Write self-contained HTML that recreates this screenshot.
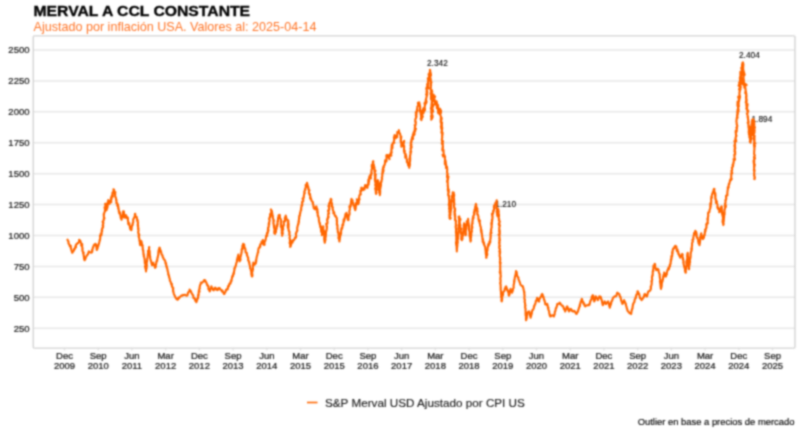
<!DOCTYPE html>
<html lang="es"><head><meta charset="utf-8"><title>MERVAL A CCL CONSTANTE</title>
<style>
html,body{margin:0;padding:0;background:#fff;}
body{width:800px;height:439px;overflow:hidden;font-family:"Liberation Sans",Arial,sans-serif;}
svg{display:block;}
svg text{font-family:"Liberation Sans",Arial,sans-serif;}
.title{font-size:14.8px;font-weight:bold;fill:#000;stroke:#000;stroke-width:0.35px;}
.sub{font-size:12.58px;fill:#ff7426;}
.grid line{stroke:#e7e7e7;stroke-width:1.5;}
.ylab text{font-size:9.5px;fill:#111;stroke:#111;stroke-width:0.2px;text-anchor:end;}
.xlab text{font-size:9.5px;fill:#111;stroke:#111;stroke-width:0.2px;text-anchor:middle;}
.ann text{font-size:8.3px;fill:#000;stroke:#000;stroke-width:0.1px;}
.leg{font-size:11.7px;fill:#1a1a1a;stroke:#1a1a1a;stroke-width:0.15px;}
.foot{font-size:9.42px;fill:#000;stroke:#000;stroke-width:0.15px;text-anchor:end;}
</style></head><body>
<svg width="800" height="439" viewBox="0 0 800 439">
<rect width="800" height="439" fill="#fff"/>
<g filter="url(#bl)">
<text class="title" x="33.5" y="16.2" textLength="216.6" lengthAdjust="spacingAndGlyphs">MERVAL A CCL CONSTANTE</text>
<text class="sub" x="33.5" y="31.4">Ajustado por inflación USA. Valores al: 2025-04-14</text>
<g class="grid"><line x1="33.25" x2="795" y1="328.20" y2="328.20"/><line x1="33.25" x2="795" y1="297.29" y2="297.29"/><line x1="33.25" x2="795" y1="266.38" y2="266.38"/><line x1="33.25" x2="795" y1="235.47" y2="235.47"/><line x1="33.25" x2="795" y1="204.56" y2="204.56"/><line x1="33.25" x2="795" y1="173.64" y2="173.64"/><line x1="33.25" x2="795" y1="142.73" y2="142.73"/><line x1="33.25" x2="795" y1="111.82" y2="111.82"/><line x1="33.25" x2="795" y1="80.91" y2="80.91"/><line x1="33.25" x2="795" y1="50.00" y2="50.00"/><line x1="64.50" x2="64.50" y1="348.1" y2="350.6"/><line x1="98.21" x2="98.21" y1="348.1" y2="350.6"/><line x1="131.93" x2="131.93" y1="348.1" y2="350.6"/><line x1="165.64" x2="165.64" y1="348.1" y2="350.6"/><line x1="199.36" x2="199.36" y1="348.1" y2="350.6"/><line x1="233.07" x2="233.07" y1="348.1" y2="350.6"/><line x1="266.79" x2="266.79" y1="348.1" y2="350.6"/><line x1="300.50" x2="300.50" y1="348.1" y2="350.6"/><line x1="334.21" x2="334.21" y1="348.1" y2="350.6"/><line x1="367.93" x2="367.93" y1="348.1" y2="350.6"/><line x1="401.64" x2="401.64" y1="348.1" y2="350.6"/><line x1="435.36" x2="435.36" y1="348.1" y2="350.6"/><line x1="469.07" x2="469.07" y1="348.1" y2="350.6"/><line x1="502.79" x2="502.79" y1="348.1" y2="350.6"/><line x1="536.50" x2="536.50" y1="348.1" y2="350.6"/><line x1="570.21" x2="570.21" y1="348.1" y2="350.6"/><line x1="603.93" x2="603.93" y1="348.1" y2="350.6"/><line x1="637.64" x2="637.64" y1="348.1" y2="350.6"/><line x1="671.36" x2="671.36" y1="348.1" y2="350.6"/><line x1="705.07" x2="705.07" y1="348.1" y2="350.6"/><line x1="738.79" x2="738.79" y1="348.1" y2="350.6"/><line x1="772.50" x2="772.50" y1="348.1" y2="350.6"/></g>
<rect x="33.25" y="35.9" width="761.75" height="312.20000000000005" fill="none" stroke="#d4d4d4" stroke-width="1.4" rx="1"/>
<g class="ylab"><text x="29.5" y="331.50">250</text><text x="29.5" y="300.59">500</text><text x="29.5" y="269.68">750</text><text x="29.5" y="238.77">1000</text><text x="29.5" y="207.86">1250</text><text x="29.5" y="176.94">1500</text><text x="29.5" y="146.03">1750</text><text x="29.5" y="115.12">2000</text><text x="29.5" y="84.21">2250</text><text x="29.5" y="53.30">2500</text></g>
<g class="xlab"><text x="64.50" y="358.6">Dec</text><text x="64.50" y="369.0">2009</text><text x="98.21" y="358.6">Sep</text><text x="98.21" y="369.0">2010</text><text x="131.93" y="358.6">Jun</text><text x="131.93" y="369.0">2011</text><text x="165.64" y="358.6">Mar</text><text x="165.64" y="369.0">2012</text><text x="199.36" y="358.6">Dec</text><text x="199.36" y="369.0">2012</text><text x="233.07" y="358.6">Sep</text><text x="233.07" y="369.0">2013</text><text x="266.79" y="358.6">Jun</text><text x="266.79" y="369.0">2014</text><text x="300.50" y="358.6">Mar</text><text x="300.50" y="369.0">2015</text><text x="334.21" y="358.6">Dec</text><text x="334.21" y="369.0">2015</text><text x="367.93" y="358.6">Sep</text><text x="367.93" y="369.0">2016</text><text x="401.64" y="358.6">Jun</text><text x="401.64" y="369.0">2017</text><text x="435.36" y="358.6">Mar</text><text x="435.36" y="369.0">2018</text><text x="469.07" y="358.6">Dec</text><text x="469.07" y="369.0">2018</text><text x="502.79" y="358.6">Sep</text><text x="502.79" y="369.0">2019</text><text x="536.50" y="358.6">Jun</text><text x="536.50" y="369.0">2020</text><text x="570.21" y="358.6">Mar</text><text x="570.21" y="369.0">2021</text><text x="603.93" y="358.6">Dec</text><text x="603.93" y="369.0">2021</text><text x="637.64" y="358.6">Sep</text><text x="637.64" y="369.0">2022</text><text x="671.36" y="358.6">Jun</text><text x="671.36" y="369.0">2023</text><text x="705.07" y="358.6">Mar</text><text x="705.07" y="369.0">2024</text><text x="738.79" y="358.6">Dec</text><text x="738.79" y="369.0">2024</text><text x="772.50" y="358.6">Sep</text><text x="772.50" y="369.0">2025</text></g>
<g class="ann">
<text x="427" y="65.9">2.342</text>
<text x="495.3" y="206.8">1.210</text>
<text x="739" y="58.4">2.404</text>
<text x="751.5" y="122.2">1.894</text>
</g>
<path d="M67.5,239.7 L67.9,240.8 L68.1,240.9 L68.6,241.7 L68.4,243.1 L68.7,243.7 L69.1,244.3 L69.9,245.5 L69.7,246.1 L70.0,246.4 L70.7,245.7 L70.9,247.5 L70.9,248.8 L71.2,249.1 L71.6,250.7 L72.1,252.4 L72.1,252.8 L72.6,252.7 L72.8,251.3 L73.3,251.1 L73.9,250.7 L74.1,248.9 L74.6,248.9 L74.8,249.1 L75.1,247.6 L75.7,245.7 L76.0,247.1 L75.9,244.9 L76.7,244.0 L77.1,243.9 L77.6,243.3 L77.6,243.1 L78.5,242.9 L79.0,241.9 L79.2,239.7 L79.6,240.2 L79.7,240.5 L80.3,240.7 L80.7,242.0 L80.5,241.9 L81.5,244.1 L81.1,245.4 L82.2,244.0 L82.1,246.4 L82.1,246.6 L82.6,248.7 L82.3,248.9 L82.6,249.8 L82.4,250.8 L82.8,251.4 L83.4,252.7 L83.0,253.0 L83.8,252.8 L83.3,252.8 L83.7,255.6 L84.0,256.7 L83.8,256.3 L84.0,257.6 L84.1,258.7 L84.4,258.3 L84.2,259.5 L84.6,260.2 L84.8,260.1 L85.6,258.6 L85.4,257.8 L86.0,257.1 L86.6,256.0 L87.0,255.1 L87.1,255.2 L87.3,254.8 L88.0,254.4 L88.2,253.1 L88.5,252.6 L88.8,251.4 L89.7,252.0 L90.5,252.4 L91.3,252.7 L91.8,252.4 L92.3,251.6 L92.0,250.1 L92.4,250.4 L92.5,249.2 L93.2,246.9 L92.9,247.5 L93.4,246.9 L93.5,246.4 L93.9,245.2 L94.5,244.4 L95.4,245.1 L95.6,243.9 L95.9,244.6 L96.1,245.5 L96.9,245.8 L96.3,246.3 L96.7,248.8 L96.7,250.0 L97.1,249.7 L97.0,248.5 L97.5,248.5 L98.0,245.9 L98.2,245.4 L98.3,244.6 L98.4,245.9 L98.5,244.3 L99.0,243.5 L99.0,243.8 L99.4,241.6 L100.0,240.2 L99.6,240.2 L100.0,239.2 L100.0,239.2 L100.3,238.4 L100.0,235.7 L100.7,235.5 L100.5,234.2 L101.3,235.5 L101.5,233.3 L101.4,232.2 L101.7,233.9 L101.5,233.0 L102.2,230.8 L102.1,230.1 L101.7,230.5 L102.3,228.0 L102.6,228.2 L103.0,226.1 L103.0,227.6 L103.2,225.3 L102.7,225.5 L103.0,224.0 L103.5,222.9 L102.6,221.9 L102.8,222.2 L103.5,220.2 L103.5,220.7 L103.7,220.4 L103.8,219.3 L103.9,217.6 L104.4,218.4 L103.9,216.8 L103.7,214.1 L103.8,215.3 L104.1,213.5 L104.4,212.7 L104.4,212.1 L105.2,211.2 L105.0,211.3 L104.9,208.2 L104.9,209.7 L104.6,207.2 L105.5,207.9 L105.3,207.1 L105.5,204.2 L105.1,203.9 L105.6,203.8 L105.5,204.1 L106.2,204.6 L106.5,206.0 L106.5,207.3 L106.9,207.9 L106.6,206.7 L106.3,209.1 L106.6,210.1 L106.1,208.3 L107.0,208.1 L107.2,208.5 L107.3,207.3 L107.6,206.9 L107.5,203.6 L107.7,206.0 L107.5,203.4 L108.3,201.4 L107.9,204.3 L107.6,202.3 L108.6,200.8 L108.2,200.1 L108.3,201.8 L109.0,201.4 L109.0,203.2 L109.4,202.9 L109.7,203.8 L109.6,202.6 L110.3,202.4 L110.1,200.5 L111.3,202.1 L110.9,198.1 L111.1,199.7 L111.7,198.9 L111.4,197.5 L111.7,197.3 L111.4,196.9 L112.3,194.6 L112.9,196.6 L112.4,192.9 L113.1,193.3 L113.2,191.2 L114.2,192.9 L113.5,189.2 L114.2,190.0 L113.8,192.0 L113.9,192.5 L114.9,192.5 L115.4,192.1 L114.9,194.3 L115.3,194.4 L115.1,195.7 L115.2,196.3 L115.6,197.6 L115.7,197.5 L115.8,197.4 L116.1,199.0 L116.1,200.0 L116.3,200.7 L116.5,200.0 L116.4,203.2 L116.6,202.6 L116.7,202.6 L117.6,204.3 L117.2,205.1 L117.7,206.4 L118.0,204.6 L118.2,208.7 L118.3,206.5 L118.6,209.1 L118.5,209.6 L118.9,210.1 L118.8,211.7 L119.4,212.2 L119.2,213.4 L119.7,212.1 L120.2,213.8 L120.4,215.4 L120.7,216.5 L120.6,217.2 L121.1,218.9 L120.9,217.9 L121.4,218.8 L121.6,219.8 L121.7,218.1 L122.2,216.7 L121.8,215.9 L122.4,216.2 L122.7,214.4 L122.9,214.2 L122.9,212.9 L122.9,212.7 L123.2,211.3 L123.7,211.4 L123.6,211.5 L123.9,211.9 L124.1,215.0 L124.0,215.2 L124.4,214.7 L124.0,217.4 L124.7,217.6 L125.4,216.6 L125.8,215.0 L126.4,216.3 L126.5,218.0 L127.4,217.6 L127.0,216.9 L127.9,218.0 L127.9,218.6 L127.9,220.9 L128.2,221.3 L128.2,222.8 L128.2,224.0 L129.1,223.1 L129.3,223.3 L129.2,225.1 L129.3,224.5 L129.9,226.5 L129.8,227.1 L130.0,227.4 L130.2,228.9 L130.7,229.9 L131.4,230.1 L131.6,228.7 L131.7,226.9 L131.7,227.7 L131.7,227.0 L132.3,224.9 L132.3,225.0 L132.7,225.1 L132.7,223.0 L132.9,222.9 L133.2,222.5 L133.2,221.3 L133.2,219.3 L133.5,219.1 L133.5,218.9 L133.9,218.4 L134.3,217.2 L135.0,216.7 L134.9,216.3 L135.1,213.7 L134.8,214.8 L135.2,213.8 L135.4,216.4 L135.8,216.7 L136.0,217.2 L136.3,216.9 L136.6,216.8 L136.8,217.7 L137.3,221.0 L137.7,220.1 L137.8,220.9 L137.5,221.7 L138.1,222.7 L137.8,223.9 L138.2,225.7 L137.6,224.9 L138.0,225.3 L137.8,225.9 L138.1,226.9 L138.5,228.7 L138.0,228.9 L138.6,230.4 L138.5,230.7 L138.1,232.3 L138.7,233.6 L138.6,233.5 L138.8,233.6 L139.2,235.9 L138.5,234.2 L139.2,234.7 L138.6,236.5 L139.0,237.6 L139.1,238.1 L139.3,238.2 L139.3,238.7 L139.5,240.9 L139.5,241.2 L139.9,242.2 L140.0,244.1 L139.8,243.6 L140.2,243.8 L140.2,245.2 L140.3,244.1 L140.8,244.1 L141.1,244.4 L141.1,242.1 L141.5,241.4 L141.0,240.8 L141.9,243.1 L141.8,244.0 L142.1,244.8 L142.1,245.9 L142.7,245.3 L142.4,246.0 L142.8,248.0 L142.8,248.8 L142.7,249.4 L142.8,249.8 L143.4,250.6 L143.2,251.4 L143.3,251.8 L143.5,253.6 L143.8,254.3 L143.4,254.3 L143.9,255.3 L143.7,256.5 L144.0,256.5 L144.3,257.8 L144.8,259.6 L144.4,258.2 L144.7,260.2 L144.7,260.9 L144.8,262.1 L145.3,262.4 L144.8,263.1 L145.4,263.3 L145.5,265.2 L145.0,266.2 L145.4,267.9 L145.6,267.0 L145.5,268.6 L145.9,268.3 L145.8,270.0 L146.1,270.5 L146.0,271.5 L146.0,271.0 L146.1,269.8 L146.2,269.7 L146.6,268.0 L146.6,266.9 L146.5,267.1 L146.9,265.6 L146.7,265.1 L146.5,264.1 L146.7,263.6 L146.7,261.2 L147.0,261.9 L147.0,261.5 L147.2,259.6 L147.4,258.2 L147.2,258.4 L147.7,257.5 L147.6,256.3 L147.7,257.2 L147.7,255.2 L147.7,255.8 L147.9,253.7 L148.2,253.7 L148.0,250.8 L148.5,252.1 L148.6,252.1 L148.7,250.1 L149.0,249.5 L149.2,247.5 L149.0,247.7 L149.2,247.0 L149.0,248.9 L149.1,251.4 L149.4,250.6 L149.6,250.9 L149.7,252.8 L149.7,253.1 L149.8,254.5 L149.8,254.5 L149.8,255.3 L150.3,257.2 L150.1,256.2 L150.2,257.7 L150.2,258.7 L150.9,260.3 L150.7,260.6 L150.9,260.6 L151.4,262.1 L151.3,262.0 L151.4,263.0 L151.5,263.5 L151.8,263.2 L152.0,265.2 L152.4,264.8 L153.1,263.4 L153.3,262.7 L153.6,264.5 L153.9,264.6 L153.8,265.0 L154.2,265.2 L154.7,266.3 L155.0,267.8 L155.3,267.7 L155.9,266.6 L155.5,266.4 L155.6,265.6 L156.1,264.4 L156.3,262.7 L156.5,261.9 L156.4,261.7 L156.6,261.9 L156.9,260.3 L157.2,260.9 L157.3,258.9 L157.4,258.4 L157.8,257.6 L157.5,257.8 L158.4,254.5 L158.1,255.2 L158.4,254.7 L158.3,252.5 L158.6,253.3 L158.5,250.9 L158.9,249.5 L159.0,249.7 L159.3,248.8 L159.2,248.1 L159.5,247.7 L159.8,247.9 L160.0,249.8 L160.0,251.4 L160.7,250.4 L161.3,252.8 L161.2,252.3 L161.2,252.2 L161.5,253.9 L161.8,254.7 L162.6,255.5 L162.3,255.0 L162.8,257.2 L163.3,257.7 L163.6,258.8 L163.8,259.2 L164.3,259.7 L164.8,260.2 L165.3,261.4 L165.5,263.4 L165.6,262.9 L166.1,263.1 L166.1,265.1 L166.2,265.6 L166.5,266.9 L166.8,266.3 L166.7,267.6 L167.1,267.8 L167.3,269.0 L167.5,270.1 L167.6,269.7 L167.7,271.4 L168.2,272.4 L168.2,272.5 L168.2,274.4 L168.6,274.5 L168.9,276.1 L169.0,276.5 L169.1,276.5 L169.4,277.7 L169.1,277.1 L169.8,279.1 L169.9,279.2 L169.8,280.6 L170.6,281.6 L170.9,282.6 L170.8,282.8 L171.2,283.5 L171.2,284.3 L171.9,283.8 L171.8,286.1 L172.4,286.8 L172.4,287.4 L172.8,287.8 L173.3,288.3 L172.9,289.7 L173.0,289.1 L173.3,291.1 L173.0,291.2 L173.6,292.4 L173.6,292.9 L173.8,293.9 L174.0,294.3 L174.5,295.2 L174.8,295.8 L175.4,297.4 L175.6,297.7 L176.0,297.9 L176.5,299.2 L177.2,299.0 L177.6,299.7 L178.1,299.4 L178.5,297.5 L179.2,298.1 L179.6,297.2 L180.2,296.7 L180.8,296.2 L181.4,295.5 L182.1,295.7 L182.9,294.9 L183.7,295.2 L184.6,294.7 L185.5,295.2 L186.3,295.4 L187.1,295.7 L187.6,295.1 L187.6,294.1 L188.1,292.5 L188.3,292.7 L188.6,291.9 L189.1,291.6 L189.4,290.8 L189.6,289.6 L190.1,290.4 L190.5,291.0 L190.9,291.0 L191.3,292.7 L191.8,293.3 L192.2,294.0 L192.4,294.8 L192.5,294.7 L193.2,295.3 L193.4,297.9 L193.9,297.7 L194.6,298.3 L194.6,299.1 L195.0,299.1 L195.4,300.9 L195.9,301.1 L196.4,302.2 L196.7,301.3 L196.8,300.5 L196.7,299.9 L197.3,299.7 L197.3,298.5 L197.8,298.0 L198.1,298.1 L198.1,296.4 L198.1,294.7 L198.5,295.6 L198.7,294.5 L198.6,292.8 L199.0,291.9 L198.7,291.0 L199.5,291.8 L199.2,289.6 L199.4,288.8 L199.8,288.4 L199.5,288.3 L199.7,286.9 L200.0,285.8 L200.1,285.1 L200.7,284.1 L200.9,282.6 L201.5,282.7 L202.1,282.6 L202.8,282.0 L203.5,281.5 L203.9,280.2 L204.6,280.1 L205.4,280.4 L205.4,281.7 L206.0,281.9 L206.4,282.6 L206.6,283.5 L207.0,284.5 L207.4,285.6 L207.9,285.4 L208.2,286.4 L208.5,286.6 L208.3,288.9 L208.8,288.9 L208.8,289.7 L209.0,289.3 L209.5,290.9 L209.7,291.4 L210.1,290.8 L210.0,289.7 L210.3,288.7 L210.9,288.3 L210.9,288.8 L211.3,287.4 L211.4,286.4 L211.8,287.3 L211.9,288.4 L212.3,288.8 L212.7,289.3 L213.2,290.1 L213.7,290.3 L214.0,288.7 L214.7,288.0 L215.2,287.6 L215.7,288.7 L215.9,289.4 L216.6,288.7 L217.2,290.1 L218.0,289.7 L218.3,288.2 L218.9,288.1 L219.6,288.0 L220.2,289.4 L220.8,289.8 L221.4,290.1 L222.0,291.5 L222.3,290.4 L222.7,291.6 L223.2,292.4 L223.5,292.7 L223.9,293.9 L224.3,294.0 L224.9,292.6 L225.2,292.0 L225.6,291.8 L226.0,289.8 L226.4,290.1 L226.9,289.0 L227.4,288.6 L227.7,289.3 L228.0,286.9 L228.3,285.9 L228.9,286.4 L228.9,285.8 L229.3,283.9 L229.5,284.5 L229.8,283.3 L230.3,283.6 L230.8,282.8 L230.7,281.4 L231.0,280.8 L231.6,280.9 L231.5,279.5 L231.9,278.6 L232.1,277.0 L232.3,276.1 L232.7,276.4 L233.1,276.0 L232.9,275.7 L233.5,273.0 L233.8,274.0 L234.1,271.9 L234.0,272.2 L234.1,271.2 L234.5,269.4 L234.3,268.6 L234.7,268.9 L234.8,267.6 L235.2,267.5 L235.4,266.0 L235.5,266.3 L236.0,265.0 L236.0,265.2 L236.1,263.8 L236.5,262.6 L236.9,261.7 L237.0,260.3 L237.2,260.5 L236.8,260.0 L237.2,259.7 L237.4,257.9 L237.8,257.1 L237.9,256.2 L238.2,255.8 L238.2,255.1 L238.4,254.5 L238.4,256.7 L239.1,257.4 L238.9,259.0 L239.4,260.0 L239.4,261.0 L239.6,261.0 L239.7,261.3 L239.8,259.7 L240.3,260.4 L240.5,259.6 L240.2,256.9 L240.4,256.8 L240.5,256.9 L240.9,255.6 L241.0,254.9 L241.2,254.7 L241.5,252.9 L241.5,252.6 L241.3,252.8 L241.8,251.8 L241.6,249.8 L242.1,248.3 L242.2,249.1 L242.7,249.1 L242.4,245.8 L242.9,246.9 L243.0,244.4 L243.2,245.2 L243.2,243.8 L243.4,244.2 L243.7,245.9 L244.2,244.5 L244.3,247.1 L244.7,248.1 L245.1,248.0 L245.2,248.8 L245.6,250.0 L245.4,250.3 L245.6,252.4 L246.1,252.4 L246.1,252.7 L246.8,252.7 L246.9,255.3 L247.2,255.1 L247.3,256.1 L247.6,256.7 L248.1,258.0 L248.0,257.3 L248.3,258.2 L248.1,260.4 L248.7,260.9 L248.5,260.7 L249.1,261.2 L249.0,262.6 L249.3,263.5 L249.4,262.8 L249.5,263.8 L249.5,264.8 L250.0,265.7 L250.2,267.9 L250.1,268.3 L250.3,267.6 L250.7,269.0 L250.8,270.1 L251.1,271.2 L251.2,271.2 L251.4,271.2 L251.3,274.1 L251.5,273.4 L252.2,274.8 L251.6,275.8 L252.0,276.4 L252.3,276.5 L252.4,274.5 L252.4,274.4 L252.0,272.8 L252.1,272.2 L252.6,270.8 L252.1,271.5 L252.7,270.9 L252.4,269.7 L253.1,269.5 L252.8,267.6 L252.9,267.3 L253.2,265.9 L252.8,265.5 L253.0,264.6 L253.2,264.5 L253.3,262.6 L253.8,262.9 L254.6,264.7 L255.3,263.8 L255.3,263.3 L255.9,263.2 L255.9,260.5 L255.7,260.8 L256.3,261.2 L256.2,259.8 L256.7,257.1 L256.6,257.5 L256.8,256.5 L257.2,255.3 L257.3,255.1 L257.5,253.9 L257.5,253.9 L257.7,253.0 L258.3,252.2 L258.1,251.8 L258.2,251.4 L258.2,250.2 L258.6,248.4 L259.2,247.7 L259.0,247.5 L259.7,247.5 L260.0,245.4 L260.3,246.6 L260.4,244.4 L260.8,243.8 L261.7,243.4 L261.5,241.7 L262.1,241.8 L262.4,242.2 L262.8,240.0 L263.1,241.2 L262.9,241.0 L263.2,244.1 L263.9,242.4 L264.1,242.7 L264.0,245.0 L264.4,242.8 L264.6,244.7 L264.3,242.3 L264.5,242.4 L265.0,240.9 L265.4,240.8 L265.5,239.5 L265.8,238.8 L265.9,238.0 L266.0,237.2 L266.1,235.9 L267.2,235.9 L266.7,235.0 L267.1,232.6 L267.4,233.9 L267.8,232.5 L268.0,231.7 L267.8,230.0 L268.5,230.4 L268.0,227.8 L268.0,230.2 L268.2,227.7 L268.7,226.9 L268.7,225.0 L268.6,227.0 L268.8,225.4 L268.7,223.6 L269.3,224.1 L269.0,222.9 L269.6,220.9 L269.7,220.0 L269.5,220.0 L269.1,219.0 L269.7,217.0 L270.1,217.7 L270.1,217.6 L270.2,217.4 L270.1,214.1 L271.0,215.1 L270.9,213.2 L271.0,213.4 L271.1,212.5 L271.4,211.1 L270.9,209.4 L271.3,210.2 L271.1,210.3 L271.9,210.8 L271.9,211.3 L272.0,212.7 L272.3,213.2 L272.2,214.5 L272.4,216.0 L272.5,214.8 L272.9,216.5 L272.7,216.7 L273.1,218.9 L273.4,219.4 L273.4,221.4 L273.5,222.2 L273.9,220.4 L273.3,223.3 L273.6,223.8 L273.7,223.4 L273.7,224.8 L273.8,226.2 L274.6,225.6 L273.9,227.5 L274.4,228.6 L274.5,228.7 L274.5,230.1 L274.3,230.9 L274.3,233.2 L274.4,233.3 L274.9,233.3 L275.1,234.0 L275.2,232.5 L275.4,231.8 L276.0,232.1 L275.7,229.2 L276.0,229.6 L275.9,228.1 L275.8,228.8 L276.5,229.2 L276.7,226.7 L277.3,226.2 L277.1,225.2 L277.2,224.1 L277.2,225.0 L277.7,224.5 L277.5,222.1 L277.5,222.2 L277.5,221.0 L278.3,221.2 L277.9,220.0 L278.1,217.5 L278.1,218.5 L279.0,216.2 L278.5,215.6 L278.8,215.2 L278.5,217.2 L279.7,214.9 L280.0,218.5 L279.8,218.1 L280.6,218.9 L280.8,219.2 L281.2,221.3 L281.1,222.3 L281.3,221.0 L280.9,222.3 L280.8,223.8 L281.4,225.2 L281.0,223.8 L280.8,226.7 L281.1,225.5 L281.6,227.6 L281.2,227.4 L281.8,227.9 L281.7,230.6 L282.1,230.6 L281.7,233.3 L281.7,232.5 L282.2,232.8 L282.2,234.5 L282.1,235.2 L282.2,235.8 L282.4,232.7 L282.8,233.7 L282.5,231.5 L282.2,230.3 L283.0,229.8 L282.5,229.9 L283.0,229.5 L283.2,229.4 L283.0,228.2 L283.0,227.2 L283.4,226.0 L283.8,225.0 L283.9,225.1 L283.8,223.0 L283.8,222.7 L283.9,221.4 L284.2,221.1 L285.3,221.1 L284.9,218.8 L284.7,218.4 L285.2,217.0 L285.8,216.8 L285.6,216.4 L285.7,215.6 L286.4,218.2 L286.7,219.3 L287.1,219.6 L287.6,220.2 L288.2,220.2 L288.4,222.2 L287.8,222.3 L288.2,222.7 L287.6,225.7 L288.2,226.0 L288.7,223.9 L288.5,225.5 L288.6,227.3 L287.8,227.4 L288.6,228.9 L288.8,230.2 L288.9,230.2 L288.5,230.0 L289.0,231.6 L289.0,231.3 L289.6,231.9 L289.2,234.4 L289.4,233.5 L289.6,235.3 L289.9,235.9 L289.5,238.0 L289.7,238.8 L290.0,239.2 L289.9,240.4 L290.0,240.7 L290.1,241.1 L289.6,242.9 L290.2,244.7 L290.0,242.8 L290.3,245.5 L290.1,246.8 L290.6,246.5 L291.0,244.8 L290.9,245.1 L291.5,243.4 L291.5,243.0 L291.9,242.9 L292.0,240.8 L292.6,242.4 L292.6,240.2 L293.3,240.6 L294.0,240.0 L294.6,239.0 L294.9,237.6 L295.2,238.3 L295.1,238.1 L296.0,237.5 L296.2,235.8 L295.8,233.7 L296.0,233.5 L296.4,232.7 L296.5,232.5 L296.2,232.6 L297.4,230.4 L297.2,230.0 L297.2,228.5 L297.3,227.2 L297.5,227.1 L297.7,225.6 L297.8,225.6 L298.1,223.8 L298.1,223.9 L298.4,224.1 L298.6,222.1 L298.5,221.4 L298.9,222.3 L298.9,219.5 L299.1,219.5 L299.0,217.8 L299.3,218.4 L299.2,216.0 L299.8,215.1 L299.9,215.8 L299.9,213.7 L300.1,213.9 L300.3,212.8 L300.5,211.5 L300.9,209.9 L300.7,210.7 L301.1,209.3 L301.1,208.5 L301.3,210.0 L301.2,207.9 L301.1,207.6 L301.9,206.0 L301.4,205.4 L302.2,205.4 L302.2,201.6 L302.1,202.6 L302.1,203.3 L302.1,202.2 L303.2,201.3 L303.2,199.4 L302.6,198.7 L303.1,198.1 L303.6,197.3 L303.6,197.1 L303.7,197.8 L303.9,195.1 L304.2,194.5 L304.2,192.9 L304.8,193.1 L304.3,191.4 L304.7,190.9 L305.3,189.4 L305.3,190.0 L304.9,189.1 L305.4,188.9 L305.6,187.6 L305.8,187.1 L305.7,184.7 L306.8,186.6 L306.8,183.9 L307.1,183.8 L307.0,182.7 L307.8,186.1 L307.6,185.1 L308.6,188.4 L308.2,186.8 L308.4,189.5 L309.5,190.3 L308.9,190.1 L308.8,189.0 L309.0,189.8 L309.0,193.0 L308.8,192.8 L309.7,195.2 L310.0,194.1 L310.1,195.6 L310.5,196.9 L310.2,197.4 L310.0,197.8 L310.6,198.9 L310.6,199.2 L311.0,198.5 L311.5,200.9 L311.9,201.0 L312.2,201.7 L313.0,202.3 L312.7,203.9 L313.1,204.0 L313.5,205.1 L313.3,205.9 L313.9,208.1 L313.8,208.5 L314.1,208.0 L314.7,208.9 L315.1,209.4 L315.4,207.4 L316.1,207.5 L316.4,206.4 L316.6,208.1 L316.7,208.6 L316.5,209.4 L316.8,208.4 L317.5,209.6 L317.1,212.5 L317.7,212.0 L317.7,211.8 L317.7,214.0 L317.7,215.3 L318.2,215.7 L317.8,215.8 L318.2,216.4 L318.2,216.7 L318.8,217.6 L318.9,220.5 L319.0,221.1 L319.0,220.7 L319.1,220.5 L319.2,222.4 L320.0,223.3 L319.7,224.0 L319.6,224.1 L320.2,225.2 L320.2,226.7 L320.7,227.8 L321.0,226.3 L320.6,227.3 L320.9,227.6 L321.0,228.8 L321.0,229.3 L321.1,231.1 L321.4,232.1 L321.5,231.8 L322.3,233.6 L322.0,234.0 L321.9,235.2 L322.1,232.9 L322.0,233.1 L322.0,233.1 L322.3,231.3 L322.3,231.9 L322.4,230.9 L322.8,228.1 L322.6,228.8 L323.0,228.7 L323.3,228.2 L323.2,226.4 L323.4,227.1 L323.1,227.7 L323.1,227.5 L323.3,229.6 L324.1,231.3 L323.6,231.4 L324.0,231.7 L323.4,232.3 L324.7,233.0 L324.2,234.4 L324.1,234.6 L324.3,237.1 L324.5,238.5 L324.4,236.9 L324.1,239.1 L324.6,240.1 L324.9,239.5 L324.3,240.9 L324.9,242.3 L324.7,242.7 L325.0,242.0 L324.5,240.8 L325.1,241.0 L325.6,239.5 L325.1,238.8 L325.6,237.3 L325.8,235.8 L325.8,235.9 L325.8,236.3 L325.5,234.8 L326.0,234.6 L325.8,232.5 L325.6,234.0 L326.2,231.6 L326.0,231.7 L326.4,230.2 L326.4,230.7 L326.8,228.7 L326.9,226.9 L326.7,226.5 L326.6,226.2 L327.0,226.7 L326.2,223.9 L326.9,223.4 L327.4,223.5 L327.4,221.9 L327.6,221.8 L327.1,220.4 L327.3,218.8 L327.8,219.2 L327.9,217.5 L327.9,216.7 L328.1,217.4 L328.6,217.2 L328.2,215.2 L328.1,213.9 L328.1,213.9 L329.0,213.6 L328.0,210.7 L328.3,211.7 L328.8,210.8 L329.4,208.9 L328.7,210.7 L329.1,207.3 L328.6,205.7 L328.5,206.5 L329.3,206.8 L329.4,204.3 L329.3,206.0 L329.1,203.5 L329.7,202.6 L330.0,202.5 L330.1,201.6 L330.7,200.3 L330.6,199.4 L330.9,198.9 L331.4,199.4 L331.3,200.6 L331.0,202.6 L331.6,202.6 L331.5,203.5 L331.8,203.8 L332.0,203.4 L331.8,206.4 L332.0,206.3 L332.2,206.1 L332.9,207.9 L332.5,207.6 L332.7,208.9 L333.2,210.9 L333.7,212.0 L333.3,213.1 L333.9,211.9 L334.1,212.9 L334.3,212.9 L334.2,213.7 L334.7,215.2 L335.3,216.2 L335.7,215.9 L335.9,216.8 L336.5,217.7 L336.9,218.3 L336.7,220.9 L337.0,221.0 L337.0,220.5 L337.0,221.9 L336.8,224.1 L337.3,224.5 L336.9,224.9 L337.5,225.7 L337.4,226.0 L337.5,227.1 L337.3,228.4 L337.7,229.0 L337.7,228.9 L337.5,229.0 L337.6,229.4 L337.9,231.8 L337.8,232.4 L338.4,232.2 L338.7,234.3 L338.5,233.8 L338.5,234.6 L338.8,235.6 L338.4,238.1 L339.0,236.3 L339.0,238.4 L339.1,239.6 L339.3,240.7 L339.2,240.9 L339.5,241.5 L339.5,240.3 L339.9,239.0 L339.8,238.5 L339.6,238.7 L340.0,237.5 L340.4,235.5 L340.3,236.1 L340.6,234.2 L340.7,234.5 L340.9,234.5 L340.7,232.7 L341.1,233.6 L341.1,230.8 L341.2,229.6 L341.5,228.1 L341.7,229.3 L342.2,228.0 L342.5,227.0 L342.3,225.1 L342.3,225.2 L342.7,225.2 L343.3,225.0 L342.9,224.1 L343.5,222.8 L343.5,221.9 L343.6,219.8 L343.9,221.8 L344.5,219.8 L344.1,218.9 L344.8,218.8 L344.7,217.7 L344.8,217.2 L345.2,216.7 L345.4,214.1 L345.8,215.5 L345.7,213.9 L346.5,213.1 L346.5,212.7 L346.8,215.1 L346.6,215.2 L347.3,216.4 L347.6,215.1 L347.2,217.7 L347.8,216.5 L347.7,216.2 L347.7,219.2 L348.2,219.9 L348.2,220.2 L348.6,219.7 L348.6,220.0 L348.4,217.9 L348.5,217.9 L348.7,216.6 L348.9,215.4 L349.5,214.5 L349.5,214.6 L349.6,212.8 L349.6,212.9 L349.3,211.5 L349.5,210.5 L350.0,209.1 L349.8,208.9 L349.4,206.4 L349.9,206.7 L350.2,207.1 L350.8,206.2 L350.6,204.3 L350.7,205.6 L351.1,201.7 L351.1,204.3 L351.2,200.5 L351.0,201.8 L351.3,199.6 L351.1,200.6 L351.5,198.9 L352.1,200.9 L352.0,200.6 L352.6,200.3 L352.3,200.3 L352.2,201.3 L353.3,203.1 L353.3,203.9 L353.4,205.4 L353.9,205.2 L354.1,205.7 L354.9,207.7 L354.4,208.0 L354.9,208.8 L355.0,209.3 L355.3,210.2 L355.7,207.8 L355.6,207.6 L355.6,209.3 L355.5,206.9 L355.8,207.2 L355.8,203.8 L356.4,204.4 L356.3,205.0 L356.2,202.8 L356.7,202.9 L356.6,202.7 L357.5,200.6 L357.0,200.1 L356.8,199.2 L357.1,201.4 L357.7,202.1 L358.2,201.8 L358.3,203.9 L358.3,204.3 L358.9,202.0 L358.5,200.8 L358.5,202.4 L359.1,200.0 L358.9,198.0 L359.6,199.2 L359.1,198.5 L359.2,197.3 L359.4,195.4 L359.8,195.1 L360.1,194.8 L360.4,192.8 L360.8,194.4 L360.5,192.6 L360.4,191.1 L360.4,190.6 L361.1,191.3 L361.5,190.0 L361.2,188.1 L361.5,187.6 L362.1,188.4 L362.9,189.3 L363.2,188.7 L363.3,190.1 L363.6,188.8 L364.3,188.8 L364.6,189.4 L364.3,187.6 L365.1,186.3 L365.0,185.2 L365.3,185.1 L365.8,185.3 L366.3,187.4 L366.5,187.4 L367.3,187.6 L367.5,187.8 L367.6,184.9 L368.2,184.4 L368.3,183.6 L368.7,182.8 L368.6,184.8 L368.2,183.9 L368.4,179.6 L369.1,181.7 L369.1,180.1 L369.2,177.2 L369.5,178.3 L369.7,177.6 L369.5,176.4 L370.9,178.4 L370.4,174.9 L370.8,175.1 L371.1,175.5 L371.3,172.3 L371.2,173.0 L371.8,173.5 L371.6,172.7 L371.4,172.3 L371.5,170.2 L372.1,168.0 L371.7,166.2 L372.1,167.5 L372.3,166.7 L372.3,166.5 L371.8,165.0 L372.7,164.1 L373.1,165.8 L372.8,161.7 L372.9,162.1 L373.3,161.3 L373.2,161.1 L373.2,161.7 L373.3,164.2 L373.6,166.8 L373.9,165.1 L373.8,167.2 L374.5,167.2 L374.4,168.4 L373.8,168.7 L374.4,169.5 L375.5,170.9 L374.4,171.2 L374.8,170.9 L374.8,172.6 L374.9,174.7 L374.9,175.7 L375.8,174.4 L374.9,175.7 L375.6,175.7 L374.7,175.9 L375.5,176.8 L375.4,179.6 L375.0,177.6 L374.8,179.8 L375.5,183.1 L375.4,180.7 L375.6,182.0 L375.8,183.2 L375.2,184.8 L376.0,187.2 L375.9,186.1 L375.6,187.6 L375.8,188.0 L375.1,188.5 L376.1,189.5 L376.1,189.5 L375.8,191.1 L376.0,192.4 L376.0,190.9 L375.8,192.7 L376.1,193.9 L376.5,192.4 L376.4,192.6 L375.5,189.9 L376.0,192.2 L375.9,190.8 L376.9,189.7 L376.8,187.9 L376.7,187.8 L376.9,187.6 L376.8,185.3 L376.8,185.7 L376.5,183.1 L377.0,183.1 L377.1,180.8 L377.1,181.8 L377.3,181.3 L377.8,180.1 L378.6,182.6 L378.7,183.9 L378.6,185.5 L378.5,183.8 L378.7,185.4 L379.2,188.1 L379.2,186.3 L379.2,187.1 L378.9,189.3 L378.8,190.1 L379.5,191.5 L379.6,190.7 L379.6,192.0 L379.2,192.2 L379.6,193.5 L380.1,193.2 L379.8,195.1 L379.8,194.7 L380.1,194.0 L380.1,192.3 L380.3,190.9 L379.9,190.8 L379.9,189.8 L380.2,189.0 L380.5,187.9 L380.5,186.2 L380.8,186.3 L381.0,184.4 L380.7,185.9 L380.3,184.3 L381.1,184.2 L380.7,183.4 L381.3,181.4 L381.6,181.6 L381.5,180.4 L381.6,180.1 L381.9,179.4 L382.2,179.1 L381.7,177.5 L382.3,176.6 L382.3,176.8 L382.2,173.2 L382.4,174.8 L382.5,172.9 L383.0,172.9 L382.5,171.4 L382.9,170.2 L382.6,172.8 L383.4,171.2 L383.6,169.9 L382.7,169.6 L383.3,167.5 L384.0,167.5 L383.2,167.2 L384.5,164.8 L384.4,165.4 L384.6,164.9 L384.9,163.7 L385.1,160.3 L385.3,161.3 L385.3,162.7 L385.9,161.3 L386.5,161.2 L386.5,157.5 L386.6,155.0 L386.8,157.7 L386.3,155.8 L387.3,155.0 L387.5,157.5 L388.5,155.3 L389.2,155.2 L389.1,157.5 L389.5,159.2 L389.2,157.7 L390.0,154.8 L390.9,152.6 L390.3,154.2 L391.3,155.7 L390.9,152.5 L391.8,152.1 L391.5,152.8 L391.3,150.2 L391.6,150.0 L391.6,148.2 L391.4,150.3 L391.8,144.8 L392.3,146.4 L392.4,148.1 L392.5,144.6 L392.4,144.1 L392.7,143.7 L393.0,142.7 L394.4,142.7 L393.0,143.6 L393.8,141.6 L393.9,140.8 L394.0,140.9 L394.3,140.1 L393.9,137.4 L394.0,137.9 L394.7,135.4 L394.5,135.2 L394.8,138.5 L395.0,135.2 L395.9,137.9 L396.3,137.7 L396.5,137.5 L397.2,136.9 L396.6,136.4 L397.3,135.0 L397.3,132.1 L397.3,132.7 L398.1,132.7 L398.9,130.2 L399.1,132.3 L400.1,133.9 L400.4,135.4 L401.2,137.3 L400.6,137.2 L400.6,137.5 L400.5,138.0 L401.3,136.7 L400.7,141.5 L401.0,141.1 L400.8,141.8 L400.6,140.0 L400.9,142.6 L401.2,142.5 L401.5,143.0 L401.3,145.2 L401.4,146.8 L402.7,144.3 L402.9,142.2 L403.1,142.7 L404.2,140.9 L403.2,146.1 L403.4,143.7 L403.6,144.5 L404.2,146.2 L403.9,146.3 L404.2,146.9 L403.9,150.7 L404.2,152.0 L404.8,150.7 L404.8,150.9 L404.4,152.7 L404.6,152.7 L404.4,152.9 L405.5,153.8 L405.2,154.0 L405.3,157.8 L406.3,156.6 L405.7,154.8 L406.3,157.7 L406.4,158.2 L407.2,160.7 L406.8,159.4 L406.9,161.6 L406.9,162.3 L407.2,160.9 L407.7,163.1 L408.7,165.8 L408.0,163.2 L408.1,165.3 L408.9,165.9 L408.7,165.8 L409.1,166.0 L409.3,167.8 L409.1,166.8 L409.2,167.0 L409.5,165.5 L409.7,166.1 L409.9,164.1 L409.7,162.0 L409.7,163.0 L409.9,161.0 L409.4,158.7 L410.1,161.1 L410.2,157.4 L410.0,158.5 L409.9,157.9 L410.2,155.6 L409.9,156.9 L410.5,154.0 L410.1,155.4 L410.7,153.2 L410.6,152.7 L411.2,151.6 L410.3,152.5 L410.7,150.8 L410.9,148.3 L410.5,148.5 L411.6,146.8 L411.6,147.6 L410.8,146.8 L411.5,144.5 L410.6,145.3 L411.0,144.7 L410.8,143.1 L411.3,140.6 L411.6,142.0 L411.5,139.4 L411.8,140.2 L412.1,137.0 L412.4,139.2 L413.1,139.0 L412.8,137.2 L412.9,134.2 L413.1,135.2 L413.9,135.5 L413.6,132.3 L414.6,134.3 L414.3,132.7 L414.0,132.7 L415.3,131.1 L414.8,129.7 L414.4,130.9 L416.0,128.9 L414.8,128.9 L414.8,128.0 L415.4,124.8 L414.7,125.2 L415.6,125.0 L415.8,121.9 L415.6,122.1 L415.5,122.6 L415.2,121.0 L415.2,120.9 L415.4,119.0 L415.8,118.9 L416.0,117.2 L416.5,116.5 L416.5,117.0 L415.8,115.4 L416.0,114.5 L416.3,116.9 L416.3,115.8 L416.8,110.8 L415.7,112.8 L416.0,112.1 L417.3,111.0 L416.9,109.3 L417.1,108.9 L417.4,107.7 L417.3,106.7 L418.2,105.7 L418.1,104.0 L417.9,102.8 L418.3,105.2 L418.8,102.7 L418.9,102.6 L418.8,103.0 L419.1,104.7 L419.2,102.3 L420.2,107.0 L419.9,109.6 L420.1,107.6 L420.3,107.6 L419.6,110.1 L419.5,110.8 L420.5,111.8 L420.8,110.8 L420.8,112.0 L420.3,112.4 L420.6,113.2 L420.4,112.0 L421.0,115.7 L421.4,117.7 L420.9,118.9 L420.7,118.8 L421.3,117.0 L421.4,118.7 L421.4,120.2 L421.6,118.7 L422.8,116.5 L422.1,117.2 L421.6,118.4 L421.8,114.5 L422.1,115.3 L421.2,114.9 L421.7,112.8 L422.4,113.7 L422.2,115.2 L422.6,110.8 L422.6,110.7 L422.6,110.1 L423.9,107.8 L423.9,111.4 L423.4,113.3 L424.1,109.4 L424.1,110.4 L424.5,110.8 L425.0,110.0 L424.7,107.2 L424.8,105.6 L425.1,105.1 L424.5,103.4 L424.9,102.5 L426.0,103.3 L426.1,103.5 L426.1,102.9 L425.6,101.8 L425.9,99.0 L426.6,102.1 L425.8,100.9 L426.4,97.6 L426.8,95.5 L426.7,96.6 L426.8,94.6 L426.1,94.4 L427.2,94.8 L427.2,94.5 L426.5,91.8 L427.2,92.7 L427.2,91.2 L427.3,92.5 L426.3,88.6 L428.6,88.4 L426.7,87.2 L427.6,86.3 L427.1,84.3 L428.0,87.5 L428.2,85.0 L428.5,83.5 L427.8,82.1 L428.5,81.1 L428.1,80.1 L427.8,78.2 L428.6,78.5 L428.8,80.7 L428.9,77.5 L429.1,76.8 L428.6,74.2 L429.4,73.9 L429.6,72.8 L429.6,73.7 L430.1,72.5 L429.6,72.7 L429.9,74.4 L429.9,69.9 L430.1,70.0 L430.3,71.6 L430.1,72.8 L431.0,75.5 L429.4,73.2 L431.0,74.2 L430.2,71.6 L430.5,73.1 L430.3,78.7 L430.1,74.7 L430.0,79.5 L430.9,79.5 L430.0,79.0 L430.8,79.4 L430.3,78.1 L430.2,80.4 L430.5,80.1 L431.5,82.5 L430.7,81.7 L431.1,85.1 L430.9,84.9 L430.6,86.2 L431.0,87.2 L430.4,87.7 L431.2,92.1 L431.2,91.0 L431.6,91.0 L432.3,91.6 L431.6,89.9 L432.0,94.9 L431.1,91.6 L430.5,93.7 L431.5,95.9 L431.9,93.8 L431.7,99.0 L431.0,95.5 L430.9,98.8 L431.2,99.6 L431.3,98.8 L431.9,100.1 L431.7,102.9 L432.1,105.2 L431.8,102.7 L431.3,105.1 L431.7,103.6 L432.0,103.6 L431.1,108.4 L430.8,108.4 L431.5,109.6 L431.3,108.9 L431.5,112.8 L432.4,108.8 L432.1,112.7 L431.2,112.0 L431.5,113.2 L431.6,113.3 L431.8,114.9 L431.3,118.4 L432.6,117.2 L431.8,118.7 L431.4,119.2 L431.9,118.9 L432.3,116.8 L431.2,119.7 L432.5,115.2 L432.6,116.7 L431.0,116.2 L431.7,115.8 L431.9,112.3 L431.5,112.2 L432.6,110.8 L431.5,113.7 L433.1,111.3 L432.1,107.6 L431.7,109.4 L433.0,106.3 L432.4,106.6 L432.4,107.0 L433.4,104.6 L432.9,106.4 L432.5,103.7 L432.0,104.7 L432.4,101.3 L432.7,100.2 L432.3,100.3 L433.4,99.7 L433.0,96.9 L432.0,101.1 L432.9,97.6 L433.4,94.5 L434.1,96.3 L434.3,98.1 L435.1,96.5 L434.4,97.4 L434.2,101.2 L434.5,99.9 L434.8,100.4 L435.0,102.7 L435.2,104.5 L435.1,103.9 L436.5,103.0 L436.0,103.9 L436.5,101.8 L436.6,101.3 L437.0,103.7 L436.6,103.8 L437.3,104.7 L436.7,104.3 L436.9,108.3 L438.1,107.0 L437.9,104.9 L437.6,108.6 L437.6,106.9 L438.3,108.5 L437.8,109.0 L438.6,113.5 L438.4,111.5 L438.1,112.6 L438.2,110.9 L438.8,110.7 L439.3,108.7 L438.8,112.2 L439.6,108.9 L439.8,110.8 L439.4,111.3 L440.0,108.8 L440.8,113.2 L440.0,113.5 L441.1,110.5 L441.0,112.3 L440.6,113.4 L440.1,114.8 L440.9,116.4 L441.2,118.4 L440.9,116.7 L440.7,121.6 L441.6,119.3 L441.6,117.7 L440.9,122.3 L440.8,122.7 L442.1,122.8 L441.6,122.0 L441.9,125.6 L441.6,128.0 L441.3,123.5 L441.2,128.7 L441.6,126.1 L440.9,126.8 L441.7,126.8 L442.3,127.9 L441.4,132.7 L442.0,130.0 L441.9,132.7 L442.0,134.0 L442.6,132.6 L442.1,136.0 L442.1,136.4 L442.6,134.0 L442.1,136.1 L442.3,137.7 L442.1,137.9 L441.8,139.8 L442.2,141.4 L442.0,141.9 L443.1,141.2 L441.8,143.5 L442.4,144.3 L442.9,143.5 L442.7,145.2 L443.0,147.5 L442.6,149.1 L442.6,150.1 L442.7,146.9 L442.3,149.7 L442.5,150.4 L443.2,151.1 L443.5,150.1 L443.5,151.8 L443.7,153.1 L443.1,156.4 L442.6,154.9 L443.0,155.4 L443.4,156.5 L444.0,155.9 L444.4,155.2 L444.7,156.1 L445.1,157.3 L444.8,156.2 L444.9,159.0 L445.1,159.7 L444.8,161.8 L445.5,160.4 L445.0,163.3 L445.2,163.1 L445.9,162.2 L444.9,163.4 L444.8,163.7 L445.7,165.3 L446.1,164.0 L446.1,167.2 L445.9,168.0 L446.9,166.5 L447.2,169.0 L447.2,170.9 L447.0,172.1 L447.0,171.4 L447.1,172.4 L447.8,175.0 L447.3,172.6 L447.3,174.9 L447.1,177.1 L448.5,176.8 L447.0,175.9 L448.2,178.0 L447.5,178.9 L448.0,178.8 L447.6,181.0 L447.0,181.3 L447.9,179.6 L447.4,182.4 L447.8,182.2 L447.6,182.1 L447.8,185.0 L447.8,187.1 L448.0,186.6 L447.7,185.6 L448.1,188.1 L448.1,188.8 L447.8,188.8 L447.9,190.9 L448.7,189.6 L448.8,192.2 L448.3,193.7 L448.2,193.1 L448.2,195.4 L448.5,195.8 L449.1,196.4 L449.1,195.6 L448.9,197.8 L448.9,198.2 L449.3,199.5 L449.1,200.1 L449.3,199.5 L449.1,203.2 L449.3,201.4 L448.8,205.0 L449.3,203.8 L449.2,206.7 L449.3,206.6 L449.3,204.6 L449.7,205.9 L449.3,208.1 L449.0,208.5 L449.5,209.6 L449.6,212.1 L449.6,212.5 L449.3,211.3 L449.5,212.3 L449.7,213.6 L449.8,213.8 L449.4,214.8 L449.7,217.4 L449.8,217.6 L449.6,218.4 L449.5,216.8 L450.1,218.9 L450.7,218.2 L449.7,216.7 L449.9,216.4 L449.9,214.7 L450.5,215.0 L450.3,213.8 L450.5,213.3 L450.6,212.2 L451.0,210.1 L450.6,210.9 L450.7,209.5 L450.8,209.4 L451.4,208.2 L451.0,207.9 L451.1,204.9 L451.3,205.6 L451.3,205.1 L451.2,205.0 L451.5,203.0 L450.9,201.0 L451.7,201.9 L451.9,201.5 L451.7,199.2 L451.6,199.6 L451.7,199.7 L451.8,196.3 L452.2,195.5 L452.9,195.7 L452.4,195.6 L452.6,195.1 L452.7,192.3 L452.9,194.1 L453.8,192.6 L453.5,195.4 L454.3,194.8 L453.9,195.9 L454.1,196.6 L453.7,197.3 L453.5,197.3 L453.5,197.5 L453.5,197.1 L454.1,199.0 L454.1,201.7 L453.9,201.5 L453.7,200.7 L454.4,204.6 L454.1,202.0 L454.2,203.4 L453.9,206.6 L454.5,207.5 L454.6,208.0 L454.2,207.7 L454.8,208.4 L455.1,208.9 L455.0,211.4 L454.8,209.3 L454.4,212.2 L454.6,212.7 L454.8,215.2 L454.5,214.3 L455.0,213.2 L454.8,216.7 L455.2,215.2 L455.1,215.7 L455.2,218.8 L454.9,219.1 L455.4,220.3 L455.1,220.1 L455.9,220.4 L456.0,221.1 L455.8,222.7 L455.9,223.8 L455.8,224.3 L456.0,225.5 L455.7,226.6 L455.6,226.4 L456.0,229.0 L456.0,228.7 L456.1,229.9 L456.2,229.0 L456.1,230.3 L455.9,231.2 L456.1,232.1 L456.1,232.5 L455.9,232.7 L456.3,234.1 L456.1,235.5 L456.2,236.0 L456.5,236.1 L456.4,237.4 L456.3,239.0 L456.2,239.4 L456.6,239.4 L456.4,241.4 L456.0,242.1 L456.1,244.2 L456.8,244.5 L456.3,245.4 L456.6,245.9 L456.7,245.8 L456.6,248.1 L456.7,248.2 L456.7,247.7 L456.7,249.6 L456.9,250.4 L456.9,250.0 L456.8,251.5 L456.9,250.5 L456.7,248.6 L457.0,249.2 L457.0,248.4 L456.8,247.7 L457.3,246.8 L457.1,245.9 L457.3,245.8 L457.4,244.4 L457.3,244.0 L457.8,242.2 L457.7,242.0 L457.6,239.9 L458.1,238.6 L457.8,239.0 L458.1,238.1 L457.9,238.2 L458.1,236.4 L458.2,236.4 L458.1,235.2 L458.4,234.0 L458.2,233.3 L458.0,233.1 L458.4,233.3 L458.2,231.6 L458.7,230.4 L458.5,229.8 L458.3,228.1 L458.8,228.3 L458.6,226.3 L458.7,227.6 L458.4,225.0 L459.0,226.3 L459.2,223.8 L459.0,222.8 L459.0,222.4 L459.0,223.1 L459.1,220.9 L459.1,220.6 L459.0,219.7 L459.3,220.2 L458.7,216.8 L458.9,218.0 L459.3,216.4 L458.7,217.5 L459.5,219.1 L460.2,218.6 L460.5,219.7 L459.9,220.0 L459.8,220.7 L459.7,222.1 L459.9,224.5 L460.2,224.5 L460.4,225.6 L460.1,225.4 L460.1,227.5 L460.1,226.9 L460.6,227.7 L460.7,229.4 L461.1,228.7 L460.7,230.5 L460.4,232.4 L460.9,232.0 L461.4,232.2 L461.1,233.0 L461.2,234.5 L461.5,234.2 L461.8,236.4 L461.7,234.9 L461.3,236.9 L461.4,237.6 L461.2,239.3 L461.7,239.5 L461.8,240.2 L461.9,240.1 L462.6,238.4 L462.0,238.3 L462.7,235.9 L462.4,235.5 L462.9,236.0 L462.7,233.8 L463.1,234.0 L463.3,231.7 L463.4,232.3 L463.8,232.6 L463.3,230.6 L463.5,229.5 L463.7,230.2 L463.4,228.3 L464.2,228.5 L463.7,226.3 L463.8,224.8 L464.4,225.6 L464.1,223.4 L464.3,223.9 L464.5,224.3 L464.1,225.2 L464.6,227.3 L464.5,227.0 L465.3,229.1 L464.7,228.4 L465.0,228.7 L465.3,229.1 L465.0,231.6 L465.2,232.7 L465.2,232.9 L465.6,234.1 L465.2,235.0 L465.6,235.2 L466.0,234.0 L465.5,234.6 L465.7,233.0 L465.8,232.0 L465.9,230.7 L465.6,231.9 L466.2,227.9 L466.0,227.7 L466.1,226.3 L466.5,228.5 L466.3,226.9 L466.6,224.4 L466.9,223.2 L466.5,223.5 L467.0,223.2 L466.7,221.5 L466.8,221.4 L467.2,220.9 L467.6,221.5 L468.0,219.7 L468.1,218.9 L468.2,221.2 L468.2,220.5 L467.9,222.7 L468.3,222.0 L468.7,223.8 L468.7,224.5 L468.8,224.5 L468.6,225.3 L468.7,226.3 L469.2,225.8 L469.0,229.1 L469.1,227.5 L469.3,229.1 L468.9,229.4 L469.1,230.8 L469.4,231.4 L469.5,231.4 L469.6,232.4 L469.5,232.3 L469.5,235.2 L469.7,236.6 L469.8,234.7 L470.0,237.2 L470.3,236.7 L470.1,238.8 L470.4,239.0 L470.5,239.5 L470.5,241.6 L470.6,241.5 L470.3,240.4 L471.1,240.1 L470.9,239.7 L470.7,237.2 L470.6,236.2 L471.1,237.3 L471.0,235.2 L471.3,235.5 L471.3,232.6 L471.2,231.8 L471.5,231.9 L471.3,233.0 L471.9,231.4 L471.7,230.3 L471.6,229.3 L472.3,227.8 L471.9,227.7 L471.8,227.0 L472.3,226.9 L471.9,225.2 L472.2,223.5 L472.4,223.4 L472.7,223.5 L472.3,222.3 L472.5,220.9 L472.6,221.7 L472.7,218.4 L472.7,219.9 L473.6,217.6 L473.1,217.7 L473.2,216.6 L473.1,216.4 L473.6,215.6 L474.3,214.4 L474.1,214.6 L473.9,212.4 L474.6,212.9 L474.4,211.4 L474.5,209.6 L474.9,210.4 L475.4,210.7 L475.2,208.7 L475.1,207.1 L475.3,207.1 L475.6,207.2 L475.6,204.9 L475.9,206.2 L475.9,203.9 L476.3,205.0 L476.0,206.0 L476.2,206.2 L476.5,208.7 L476.2,206.5 L477.5,208.9 L477.1,208.8 L477.1,210.2 L477.7,211.2 L477.4,211.2 L477.3,214.3 L477.3,214.5 L478.0,214.7 L478.1,215.9 L478.1,215.6 L478.4,216.4 L478.4,216.6 L478.5,219.4 L478.9,219.3 L479.4,220.3 L478.9,219.5 L478.9,221.3 L479.9,220.6 L479.6,222.7 L479.6,223.3 L479.8,223.1 L480.3,226.0 L480.6,226.6 L480.8,227.1 L480.9,227.7 L480.9,230.1 L481.4,229.9 L480.9,229.2 L481.3,232.5 L481.2,230.1 L481.6,231.0 L481.6,232.7 L481.9,233.4 L481.8,234.5 L482.2,235.5 L482.1,236.5 L482.2,236.6 L482.2,236.7 L482.5,238.5 L482.4,239.2 L483.1,239.3 L482.6,241.7 L483.5,241.6 L483.4,242.7 L483.9,244.6 L484.0,242.8 L484.4,245.7 L484.8,246.1 L485.1,246.5 L485.3,247.5 L485.3,247.6 L485.3,249.0 L485.5,249.2 L485.8,250.7 L485.5,250.0 L485.9,253.1 L485.7,252.4 L485.7,253.1 L486.2,255.9 L486.2,255.2 L486.6,255.4 L486.5,256.8 L486.4,257.8 L486.1,257.7 L486.5,255.8 L486.5,256.0 L487.1,254.4 L487.2,255.1 L487.2,253.4 L486.7,252.8 L487.1,251.7 L486.9,250.6 L487.4,249.4 L487.5,250.5 L487.6,248.0 L487.6,247.7 L488.4,245.8 L488.0,246.6 L488.3,244.1 L488.7,245.5 L488.7,245.2 L489.3,244.4 L489.4,242.7 L489.3,241.8 L490.2,242.6 L490.3,240.3 L490.3,238.9 L490.7,238.1 L490.6,237.7 L490.7,235.4 L490.4,237.6 L490.9,235.5 L490.4,234.5 L491.5,232.6 L490.5,232.8 L491.0,232.0 L490.9,230.2 L490.9,231.1 L491.3,230.5 L491.1,229.5 L491.3,228.3 L491.7,227.5 L491.5,225.2 L491.7,226.5 L491.5,225.0 L491.3,223.0 L491.9,224.6 L491.9,222.7 L491.9,220.4 L491.9,219.7 L492.0,222.0 L492.3,219.4 L492.5,218.4 L492.4,218.1 L492.5,215.7 L492.6,217.1 L491.9,213.7 L492.3,216.1 L492.7,213.9 L492.9,213.7 L493.2,213.1 L493.1,210.8 L493.6,211.2 L493.9,210.1 L493.9,208.9 L494.0,209.1 L494.5,208.3 L493.8,207.2 L494.1,205.6 L494.8,204.8 L495.2,203.9 L495.5,202.7 L496.1,202.6 L496.4,201.4 L496.7,200.3 L496.7,203.5 L496.8,204.2 L496.7,203.7 L496.3,207.1 L496.7,206.2 L496.5,205.8 L497.0,209.0 L496.6,208.2 L497.1,209.8 L497.3,209.8 L497.0,209.3 L496.8,212.7 L496.7,211.4 L497.4,212.7 L497.5,216.1 L497.2,215.2 L497.0,214.0 L497.5,214.0 L497.9,211.8 L497.9,212.2 L497.5,211.3 L497.5,212.0 L497.8,210.6 L498.2,208.9 L497.9,209.1 L498.6,210.5 L498.7,212.1 L498.4,211.3 L498.7,213.4 L499.0,215.1 L498.9,214.1 L499.0,216.6 L498.6,217.1 L498.8,216.7 L498.6,218.0 L499.0,218.7 L499.2,218.9 L499.0,220.0 L499.2,219.1 L498.7,220.1 L499.8,221.5 L498.7,224.1 L499.4,224.0 L499.3,222.9 L499.4,225.6 L499.0,225.1 L499.9,225.5 L499.2,227.8 L499.3,228.7 L499.4,228.2 L499.2,230.5 L499.2,232.1 L499.7,230.2 L499.8,234.1 L499.6,233.7 L499.4,234.8 L498.6,234.6 L499.5,235.3 L499.4,237.0 L499.7,238.5 L499.2,238.6 L499.5,238.8 L499.9,240.3 L499.7,240.2 L499.3,240.7 L499.7,242.9 L499.1,242.5 L499.3,243.3 L499.5,245.0 L499.9,246.2 L499.2,246.3 L499.6,246.1 L499.2,247.9 L499.9,249.2 L500.0,248.9 L499.7,250.2 L500.2,252.1 L499.3,251.4 L499.9,252.3 L500.0,253.9 L499.6,253.6 L499.8,253.8 L499.6,255.9 L500.2,257.9 L500.1,258.6 L499.9,259.6 L500.3,259.2 L500.2,260.0 L500.1,260.7 L499.9,261.1 L500.0,263.4 L500.6,262.5 L500.4,263.6 L500.2,264.7 L500.2,265.3 L500.3,266.7 L500.1,266.7 L500.3,267.5 L500.3,267.9 L500.1,270.1 L500.3,270.0 L500.4,270.8 L500.6,273.1 L499.7,272.0 L500.6,274.0 L500.3,273.4 L500.7,275.5 L500.8,276.9 L500.5,276.9 L500.4,277.3 L500.5,278.2 L500.2,279.1 L500.5,279.7 L500.6,280.4 L500.5,282.7 L500.3,282.5 L500.2,283.8 L500.5,283.9 L500.7,284.9 L500.6,284.7 L500.6,286.4 L500.8,288.2 L500.6,288.3 L500.7,288.5 L500.7,290.2 L500.9,290.6 L500.8,290.9 L501.0,291.5 L501.0,292.5 L501.0,293.1 L501.0,294.2 L501.4,294.6 L501.2,295.5 L501.1,297.4 L501.4,296.8 L501.5,297.9 L501.9,299.2 L501.4,299.6 L501.6,301.3 L501.8,301.4 L501.8,300.4 L502.1,300.1 L502.0,299.1 L502.2,298.7 L502.1,297.1 L502.4,296.5 L502.7,295.5 L503.1,294.7 L503.0,294.8 L503.1,293.4 L503.1,292.7 L503.3,291.8 L503.9,291.5 L504.3,291.1 L504.6,290.1 L504.7,288.8 L505.4,288.5 L505.2,288.8 L505.6,286.6 L506.1,286.4 L506.2,286.6 L506.8,288.4 L507.1,289.6 L507.3,290.4 L507.6,290.1 L507.8,291.0 L508.1,291.6 L508.3,292.5 L508.3,292.7 L508.8,293.1 L508.6,294.9 L509.1,295.7 L509.2,294.9 L509.6,294.4 L509.7,293.3 L509.7,292.6 L509.6,292.4 L509.8,290.6 L510.3,290.5 L510.5,290.6 L510.6,288.9 L510.6,290.5 L511.2,291.4 L511.6,291.1 L511.6,291.9 L512.1,292.7 L512.2,291.7 L512.7,290.2 L512.8,290.9 L512.8,289.8 L512.9,289.3 L513.7,287.6 L513.6,287.2 L513.6,286.4 L513.6,285.3 L513.8,284.1 L513.7,285.0 L514.0,283.6 L514.2,282.8 L514.0,281.2 L514.5,281.6 L514.3,279.8 L514.4,279.8 L514.8,278.7 L514.7,278.1 L515.0,276.7 L515.1,276.4 L515.4,275.1 L515.7,275.1 L515.6,274.2 L515.9,272.6 L516.0,271.1 L516.3,271.4 L516.8,272.4 L516.5,272.7 L516.9,274.1 L517.0,275.0 L517.2,276.1 L517.6,276.4 L518.0,277.3 L518.5,277.6 L518.3,278.9 L518.6,279.7 L518.6,279.5 L519.2,280.8 L519.4,281.4 L519.6,282.3 L519.9,282.3 L520.3,284.4 L520.6,284.7 L521.1,285.1 L521.9,286.0 L522.6,286.4 L522.8,286.2 L523.1,287.8 L523.3,288.0 L523.5,289.0 L523.7,289.9 L523.9,291.2 L524.1,291.4 L524.1,292.4 L524.4,292.0 L524.3,294.2 L524.4,294.3 L524.6,295.9 L524.5,296.4 L524.4,297.4 L524.3,297.8 L524.5,299.1 L524.8,299.5 L524.8,299.8 L524.8,300.8 L524.6,301.6 L525.0,302.8 L525.1,303.6 L525.1,303.7 L525.1,305.2 L525.5,305.4 L525.0,307.0 L525.2,307.4 L525.3,308.5 L525.6,308.8 L525.5,310.5 L525.6,311.2 L525.6,312.3 L525.6,312.3 L525.5,313.5 L525.6,313.5 L525.6,315.4 L525.8,315.3 L526.0,316.7 L525.9,317.1 L526.1,318.5 L525.9,318.6 L525.9,319.1 L526.1,320.2 L526.4,319.1 L526.6,318.7 L526.7,317.8 L526.8,317.7 L526.8,316.5 L526.9,316.0 L527.1,314.8 L527.3,314.7 L527.3,313.4 L527.6,312.7 L528.3,311.8 L529.1,311.4 L529.4,312.1 L529.5,312.4 L529.7,313.3 L529.9,315.3 L530.2,315.3 L530.3,316.5 L530.5,316.2 L530.6,317.7 L530.6,317.0 L531.0,316.6 L531.1,315.6 L531.3,315.1 L531.6,313.5 L531.8,313.8 L531.8,311.7 L532.1,311.4 L532.4,310.1 L532.8,310.1 L533.2,309.3 L533.7,308.4 L533.9,307.7 L534.0,306.1 L534.4,306.0 L534.6,305.7 L534.9,304.1 L535.0,304.1 L535.4,303.9 L535.6,302.7 L535.8,301.1 L536.2,300.5 L536.2,300.7 L536.4,300.7 L536.7,299.4 L536.9,299.3 L537.1,297.7 L537.4,298.1 L537.6,298.4 L538.1,300.0 L538.3,300.2 L538.6,301.4 L539.2,301.5 L539.1,300.1 L539.5,298.9 L540.0,298.5 L540.1,297.7 L540.5,297.0 L540.8,296.7 L541.3,296.0 L541.7,294.4 L542.2,293.9 L542.2,294.8 L542.8,295.0 L542.8,297.0 L543.1,296.6 L543.6,297.1 L543.7,298.3 L543.9,298.9 L544.2,300.2 L544.5,300.0 L544.6,301.3 L545.0,302.2 L545.3,303.2 L545.1,304.2 L545.7,303.9 L546.4,304.8 L547.2,303.9 L547.4,305.3 L547.6,305.6 L547.7,305.5 L547.9,307.8 L548.5,307.9 L548.2,308.8 L548.5,310.0 L548.7,310.2 L548.8,310.2 L549.2,311.6 L549.2,312.4 L549.4,314.0 L550.0,314.5 L549.7,315.2 L550.0,315.7 L550.2,316.5 L550.9,316.2 L551.5,315.9 L552.2,315.2 L552.8,315.5 L553.4,315.6 L553.9,316.5 L554.2,315.7 L554.1,314.9 L554.3,314.8 L554.7,314.2 L554.7,313.0 L554.9,311.6 L555.2,311.4 L555.5,310.4 L555.6,310.2 L555.7,308.9 L555.9,308.1 L556.2,308.2 L556.5,307.2 L556.9,306.0 L557.1,305.5 L557.3,304.0 L557.7,303.9 L558.3,303.6 L559.0,303.9 L559.7,302.7 L560.4,303.4 L560.8,304.4 L561.1,304.7 L561.7,305.2 L562.1,305.8 L562.8,305.9 L563.3,307.1 L563.7,307.7 L563.9,309.0 L564.3,308.9 L564.6,309.7 L565.0,310.5 L565.2,311.4 L565.4,310.7 L565.7,309.9 L565.9,309.3 L566.4,308.9 L566.6,307.3 L566.8,306.6 L567.2,306.4 L567.5,307.0 L567.9,308.1 L568.2,308.2 L568.3,309.6 L568.3,309.9 L568.8,310.6 L569.0,311.4 L569.4,310.7 L570.1,309.9 L570.3,309.2 L570.7,308.9 L571.2,309.4 L571.7,309.8 L572.0,311.1 L572.7,311.4 L573.4,311.5 L574.1,310.9 L574.7,311.4 L575.1,311.9 L575.5,312.5 L576.0,313.5 L576.5,314.0 L576.9,313.3 L577.2,312.3 L577.6,312.0 L577.9,311.7 L578.2,310.2 L578.7,309.0 L578.9,308.6 L579.0,307.5 L579.5,306.8 L579.5,306.0 L580.0,306.1 L579.8,304.5 L580.2,303.9 L580.5,303.0 L580.6,302.0 L580.9,301.3 L581.2,302.0 L581.3,301.1 L581.6,299.3 L581.8,298.9 L582.1,299.2 L582.3,300.8 L582.5,301.1 L583.1,301.8 L583.3,302.7 L583.5,303.7 L584.1,303.3 L584.5,305.2 L585.0,306.2 L585.3,306.4 L585.9,305.6 L586.6,305.5 L587.3,305.2 L588.1,305.1 L589.0,305.2 L589.0,304.4 L589.6,304.5 L589.6,303.7 L590.1,302.6 L590.2,301.2 L590.4,301.3 L590.8,300.2 L591.1,300.0 L591.6,298.9 L591.6,298.9 L591.7,297.0 L592.2,296.4 L592.5,295.5 L592.8,295.2 L592.8,295.3 L593.3,295.9 L593.5,297.8 L593.4,298.2 L593.6,299.4 L594.0,299.8 L594.1,301.5 L594.3,301.4 L594.4,300.9 L594.8,300.6 L595.0,299.8 L595.0,298.4 L595.1,297.7 L595.9,297.4 L595.8,296.4 L596.2,297.3 L596.6,297.3 L597.1,298.5 L597.4,299.0 L597.8,300.2 L598.1,299.1 L598.2,298.3 L598.6,298.3 L599.2,297.5 L599.3,296.4 L599.9,296.5 L600.6,296.8 L601.0,297.7 L601.0,299.0 L601.4,299.1 L601.6,300.1 L601.8,300.9 L602.0,301.4 L602.2,302.7 L602.4,303.5 L602.5,303.5 L602.6,304.5 L602.8,305.2 L603.1,304.6 L603.4,302.9 L603.9,303.0 L604.4,302.5 L604.6,301.4 L605.2,302.5 L605.5,302.9 L605.6,304.0 L606.3,303.9 L606.6,303.2 L607.0,302.9 L607.7,301.6 L608.1,301.4 L608.2,302.7 L608.4,302.7 L608.8,303.2 L609.1,304.7 L609.2,305.9 L609.3,306.0 L609.8,307.5 L609.8,307.7 L610.1,306.9 L610.1,305.6 L610.6,304.9 L610.8,304.9 L610.9,303.0 L611.2,303.7 L611.3,301.6 L611.6,301.4 L612.1,300.8 L612.2,300.5 L612.6,299.4 L612.9,298.0 L613.3,297.7 L614.0,296.9 L614.5,296.4 L615.3,296.4 L615.9,296.3 L616.4,295.6 L616.8,294.4 L616.9,293.6 L617.3,292.7 L618.0,293.3 L618.6,293.6 L619.1,293.9 L619.5,294.5 L619.5,295.3 L619.9,296.2 L620.0,296.7 L620.5,296.7 L620.8,298.7 L620.9,298.9 L621.1,299.9 L621.1,300.5 L621.4,300.9 L621.9,302.0 L621.9,302.8 L622.3,303.1 L622.4,303.9 L623.0,302.9 L623.1,303.0 L623.4,301.7 L623.5,301.2 L624.1,300.2 L624.5,301.5 L624.8,301.5 L625.1,302.3 L625.6,303.9 L625.9,303.9 L625.9,304.8 L626.1,305.9 L626.4,306.3 L626.6,307.3 L626.7,308.0 L627.1,308.6 L627.1,309.0 L627.4,310.2 L627.8,311.1 L628.2,311.4 L628.7,311.9 L629.1,312.7 L629.7,313.1 L630.6,312.9 L631.1,314.0 L631.3,313.3 L631.4,311.8 L631.6,311.2 L631.7,310.8 L631.8,310.1 L632.0,309.0 L632.2,309.0 L632.6,308.0 L632.5,306.8 L632.8,306.4 L632.9,305.2 L632.9,304.4 L633.3,304.1 L633.7,302.8 L634.2,302.3 L634.5,301.7 L634.4,301.8 L634.6,300.2 L634.8,299.2 L635.3,298.8 L635.5,297.5 L635.9,297.9 L635.9,297.0 L636.1,295.6 L636.4,295.2 L636.5,294.5 L637.2,294.2 L637.4,293.3 L637.5,291.4 L637.9,291.4 L638.0,292.2 L638.3,292.8 L638.8,293.7 L639.0,293.4 L639.2,294.5 L639.6,295.4 L639.6,296.4 L639.9,298.2 L640.2,297.8 L640.7,298.7 L641.2,299.1 L641.6,300.2 L642.1,298.8 L642.7,298.7 L643.0,298.1 L643.4,297.7 L643.7,296.4 L644.0,296.6 L644.4,294.5 L644.7,294.1 L644.9,293.9 L645.3,294.8 L645.9,295.0 L646.3,296.0 L646.7,296.4 L647.0,296.4 L647.2,295.9 L647.3,295.1 L647.6,293.9 L647.9,292.9 L648.0,292.3 L648.4,291.4 L649.3,291.3 L649.8,290.6 L650.4,290.1 L650.7,289.3 L650.7,288.7 L651.0,288.4 L650.7,286.7 L651.0,286.8 L651.3,285.4 L651.6,284.7 L651.6,284.8 L651.7,283.4 L651.7,281.6 L651.4,281.3 L651.9,281.5 L651.9,280.1 L652.0,279.9 L652.2,279.5 L651.9,277.3 L652.1,276.4 L652.7,275.7 L652.3,275.2 L652.7,274.4 L652.8,274.2 L652.7,271.9 L652.7,271.5 L653.3,271.1 L652.9,270.9 L653.2,269.4 L653.4,269.8 L653.4,267.9 L653.4,267.6 L653.5,265.6 L654.0,266.4 L654.0,265.3 L655.0,264.1 L654.7,263.8 L655.2,264.9 L655.1,265.1 L655.1,266.1 L655.3,267.3 L655.4,267.9 L656.2,269.3 L656.3,269.9 L656.2,270.1 L656.8,268.9 L657.4,269.8 L657.9,268.9 L658.3,269.5 L658.5,269.6 L658.7,271.8 L658.7,271.7 L659.0,272.5 L659.2,273.3 L659.5,273.9 L659.8,275.2 L659.8,274.3 L659.6,275.5 L659.8,277.0 L659.9,278.1 L660.0,278.5 L660.2,279.2 L660.3,280.2 L659.9,281.6 L660.2,281.0 L660.1,283.1 L660.1,282.3 L660.5,284.0 L660.4,284.4 L660.7,286.8 L660.6,285.5 L660.8,288.1 L661.0,288.4 L661.0,288.9 L661.1,287.4 L661.2,288.0 L661.6,286.4 L661.7,285.5 L661.7,285.1 L661.7,284.5 L661.9,282.6 L662.0,282.4 L662.2,281.6 L662.5,281.4 L662.5,279.5 L662.9,279.9 L663.0,278.8 L663.1,278.0 L663.1,276.5 L663.4,277.2 L663.6,276.8 L663.5,274.8 L663.8,274.9 L664.4,273.2 L664.2,272.6 L664.4,273.3 L665.1,274.0 L665.4,275.7 L665.5,276.4 L666.0,276.4 L666.2,274.5 L666.5,274.9 L666.1,274.0 L666.9,274.3 L666.7,272.9 L667.2,271.6 L667.2,271.2 L667.5,270.1 L668.0,270.0 L668.3,268.0 L669.0,269.2 L669.2,267.6 L669.3,266.8 L669.8,264.9 L670.0,266.5 L670.2,264.0 L670.7,263.8 L670.6,262.6 L670.8,260.9 L671.0,261.3 L670.8,259.5 L671.4,259.7 L671.6,257.7 L671.3,259.1 L671.4,256.0 L671.6,256.3 L671.8,256.7 L672.2,256.1 L672.2,253.8 L672.1,252.3 L672.6,253.5 L672.5,251.1 L672.7,251.4 L672.7,250.2 L673.1,248.6 L673.6,248.3 L674.1,248.4 L674.4,246.9 L675.1,247.2 L675.2,245.7 L675.2,247.1 L675.7,247.5 L676.3,246.4 L676.6,248.9 L676.6,249.5 L677.0,251.3 L677.5,249.4 L677.7,251.4 L678.3,251.9 L678.2,253.6 L678.7,254.3 L679.0,254.0 L679.3,255.8 L679.4,255.4 L680.1,256.9 L680.2,257.7 L681.0,256.3 L680.8,256.4 L681.5,255.1 L681.8,255.0 L682.2,253.9 L682.7,254.7 L682.3,256.2 L682.3,256.3 L683.0,258.0 L682.7,257.5 L682.8,259.5 L683.1,258.3 L683.3,259.8 L683.5,261.1 L683.7,262.2 L683.2,262.1 L683.5,263.3 L683.7,264.3 L684.0,265.2 L683.9,265.6 L684.2,266.2 L684.4,267.5 L684.5,267.3 L685.1,269.8 L684.9,270.8 L685.4,270.6 L685.3,272.3 L685.5,271.7 L685.7,272.7 L685.9,271.9 L685.7,271.6 L685.6,269.7 L686.3,269.2 L686.1,268.9 L686.4,268.3 L686.1,266.7 L686.6,266.3 L686.3,266.1 L686.7,266.0 L686.4,263.4 L686.5,263.3 L686.7,263.0 L686.3,262.1 L686.8,260.5 L687.1,260.0 L686.9,260.1 L687.3,258.0 L687.3,256.7 L687.1,256.5 L687.5,256.0 L687.3,254.1 L687.2,255.4 L687.7,252.9 L687.7,252.7 L687.5,253.9 L687.9,253.9 L687.7,255.4 L687.6,256.2 L688.2,256.3 L688.2,257.7 L688.1,258.8 L688.1,258.5 L688.3,259.4 L688.2,259.9 L688.5,261.1 L688.6,262.3 L688.2,263.1 L688.9,263.9 L688.5,265.3 L688.7,266.9 L688.6,266.6 L688.6,266.5 L688.9,267.6 L689.0,269.0 L689.1,269.2 L689.1,268.4 L689.1,267.4 L689.1,265.1 L689.7,264.9 L689.6,264.1 L689.7,263.2 L689.6,262.3 L689.9,261.1 L690.1,262.1 L689.8,259.6 L690.2,259.2 L690.3,257.9 L690.4,257.6 L690.5,257.9 L690.7,255.0 L690.7,255.2 L690.5,254.8 L690.8,253.2 L690.7,252.6 L691.1,251.6 L691.1,251.9 L691.5,250.9 L691.3,248.7 L691.6,250.1 L691.9,249.0 L691.7,247.6 L691.8,247.5 L691.8,247.2 L692.1,244.8 L692.0,243.0 L692.0,243.2 L692.2,242.7 L692.9,241.3 L692.8,241.2 L692.6,240.7 L692.4,240.1 L693.5,239.0 L693.2,238.0 L693.5,236.7 L693.5,236.7 L693.6,235.8 L693.9,235.3 L694.0,233.9 L694.2,232.7 L694.8,233.6 L695.3,230.7 L695.7,231.4 L696.2,233.6 L696.1,231.8 L696.6,233.7 L696.2,235.8 L696.8,234.9 L696.5,235.2 L696.8,237.0 L697.3,238.4 L697.4,237.5 L697.7,238.9 L698.3,239.6 L698.1,241.6 L699.0,242.1 L698.5,243.2 L698.7,243.0 L699.0,243.9 L699.4,244.3 L699.5,245.2 L699.6,244.0 L699.4,242.4 L699.9,243.2 L700.0,241.0 L700.2,240.9 L699.7,241.5 L699.9,241.0 L700.5,238.4 L699.9,237.3 L700.9,238.2 L700.7,234.9 L700.7,235.3 L701.0,234.6 L701.0,233.9 L701.2,233.3 L701.6,236.4 L702.1,236.7 L701.5,237.5 L702.6,238.4 L702.9,238.3 L702.8,238.9 L703.0,239.1 L703.6,237.7 L704.0,237.7 L703.8,235.2 L704.7,235.2 L704.6,234.5 L704.8,233.9 L704.8,231.7 L705.0,232.2 L705.5,231.1 L705.0,229.7 L705.6,230.1 L705.9,228.8 L706.0,228.4 L706.5,227.5 L706.2,227.2 L706.7,225.2 L706.5,225.1 L706.5,224.1 L706.2,224.6 L707.2,222.9 L707.9,223.3 L707.7,222.7 L707.6,219.3 L707.9,220.2 L707.3,218.9 L707.9,219.1 L707.9,216.9 L708.2,216.0 L708.1,216.6 L708.3,215.1 L708.1,214.6 L708.2,212.6 L708.5,212.7 L709.3,212.1 L709.5,211.5 L709.4,211.0 L709.6,209.9 L710.2,208.6 L710.4,207.3 L710.3,207.6 L710.3,205.1 L710.3,207.5 L710.7,206.5 L710.3,203.4 L711.0,204.5 L711.2,201.3 L711.2,202.0 L711.2,201.8 L711.2,198.8 L711.1,198.2 L711.1,198.8 L712.0,197.5 L711.5,196.2 L711.3,196.6 L711.8,195.6 L712.0,195.0 L712.0,194.7 L712.2,193.9 L712.6,193.4 L712.8,192.3 L713.4,191.1 L714.0,190.7 L713.5,190.2 L714.0,188.8 L714.4,188.9 L714.3,190.5 L713.9,189.3 L714.7,193.0 L714.8,193.0 L714.4,192.2 L715.0,195.0 L715.3,193.1 L715.5,195.9 L715.3,198.4 L715.1,195.7 L715.4,199.0 L715.8,198.8 L715.5,199.6 L716.3,200.5 L715.9,201.9 L716.0,202.9 L716.9,201.7 L716.4,202.2 L717.2,204.0 L717.5,204.6 L717.4,207.8 L717.6,206.3 L717.8,207.6 L718.2,209.2 L718.8,208.6 L719.4,210.3 L719.2,212.1 L719.8,211.3 L719.7,212.3 L720.5,209.7 L720.4,208.9 L720.5,209.1 L720.9,207.0 L721.4,207.2 L721.5,206.3 L721.8,206.9 L721.8,209.2 L721.5,208.0 L721.9,210.8 L722.0,211.9 L721.9,211.7 L722.6,212.5 L722.0,213.1 L722.1,213.9 L722.4,215.0 L722.3,214.0 L722.7,215.8 L722.4,214.8 L723.1,218.2 L722.7,219.8 L723.1,218.6 L723.0,220.1 L722.5,221.9 L723.2,222.3 L723.3,222.2 L723.0,223.3 L723.4,224.7 L723.3,224.3 L723.3,225.1 L723.3,223.4 L723.6,223.8 L723.6,224.4 L723.3,221.7 L723.6,221.9 L723.7,221.2 L723.9,218.0 L723.7,217.1 L723.8,217.6 L724.1,217.4 L724.0,217.6 L724.3,214.5 L724.0,215.1 L724.7,213.9 L724.3,213.5 L724.6,212.4 L724.5,211.3 L724.3,210.1 L724.6,210.1 L724.9,208.8 L724.9,208.9 L725.2,205.9 L724.7,205.6 L725.1,206.8 L725.9,206.9 L725.7,204.9 L725.3,204.1 L724.9,203.7 L725.6,202.6 L725.4,200.1 L725.7,200.3 L726.1,199.3 L726.1,198.8 L726.3,198.7 L726.0,197.0 L726.1,195.8 L727.0,194.9 L727.4,195.4 L727.3,194.2 L727.4,194.4 L727.4,191.9 L727.3,193.6 L727.6,190.3 L727.8,190.0 L727.8,187.4 L728.0,188.7 L728.2,186.8 L728.7,187.4 L728.6,186.3 L728.6,186.1 L728.8,184.0 L729.3,183.2 L729.1,184.8 L730.1,180.2 L729.8,181.2 L730.4,179.3 L731.0,180.1 L731.2,177.8 L731.3,179.1 L731.8,179.1 L731.2,177.9 L731.3,175.9 L731.3,173.2 L731.8,172.3 L731.6,174.2 L731.8,171.0 L731.7,172.8 L732.3,173.1 L731.4,170.9 L732.0,170.5 L732.2,168.8 L731.8,167.8 L732.8,166.6 L732.6,165.4 L733.2,164.3 L732.7,164.6 L733.0,166.5 L733.4,162.6 L733.6,163.2 L733.7,162.0 L733.7,161.3 L734.0,159.1 L733.6,159.1 L733.8,159.7 L735.0,159.7 L734.6,157.7 L734.3,154.8 L734.9,153.9 L734.9,154.7 L735.2,154.2 L735.1,152.6 L735.2,152.5 L734.4,151.4 L735.2,152.1 L734.7,150.0 L735.3,148.0 L734.5,149.3 L734.8,150.0 L735.1,144.8 L734.9,148.0 L734.4,145.3 L734.7,146.4 L735.1,142.1 L734.7,141.7 L734.4,141.1 L736.3,141.2 L735.4,138.6 L735.7,138.8 L735.3,140.4 L735.7,137.7 L736.0,135.8 L736.4,136.1 L736.1,135.6 L736.4,135.4 L735.9,134.8 L735.9,133.2 L736.8,130.8 L735.7,130.8 L736.0,132.4 L735.6,132.4 L737.0,128.5 L736.4,127.7 L736.7,128.4 L736.8,127.8 L737.3,125.7 L736.9,124.8 L736.7,124.6 L736.7,124.0 L736.7,122.7 L736.4,121.7 L736.6,119.4 L736.6,119.6 L736.9,117.3 L736.9,117.2 L736.8,118.3 L737.6,117.7 L737.0,115.8 L737.9,113.3 L737.9,112.7 L737.2,114.1 L737.4,115.8 L737.8,112.5 L738.0,111.8 L737.3,112.6 L737.7,110.2 L738.5,111.4 L737.4,111.4 L737.8,109.0 L738.6,110.0 L737.5,104.7 L738.8,106.4 L738.3,101.9 L738.7,103.7 L737.5,105.9 L737.6,101.5 L738.8,102.1 L739.2,100.6 L739.0,100.2 L738.7,98.8 L738.2,96.8 L740.1,96.8 L739.2,100.0 L739.8,96.5 L739.7,95.1 L739.0,96.3 L739.5,96.5 L739.4,92.6 L739.7,92.2 L739.5,90.2 L739.8,91.4 L739.8,90.1 L740.6,89.3 L739.0,89.3 L740.9,87.1 L739.5,86.7 L738.6,85.5 L739.9,82.9 L740.3,83.1 L739.1,82.5 L740.4,86.0 L740.7,82.5 L739.9,80.9 L740.6,79.7 L740.4,81.4 L739.8,78.0 L740.5,78.2 L740.2,76.5 L740.3,79.7 L741.0,73.1 L740.4,75.1 L740.4,71.8 L740.4,73.6 L740.5,72.6 L740.9,73.9 L741.8,71.5 L740.6,75.6 L740.8,74.9 L740.7,78.3 L740.4,77.1 L741.1,79.7 L740.7,80.2 L741.2,78.1 L741.0,79.3 L740.6,82.5 L742.2,82.9 L741.2,82.6 L741.9,83.6 L741.1,79.6 L741.8,81.9 L741.4,77.5 L740.7,79.1 L741.1,76.7 L741.7,78.8 L740.6,75.1 L742.2,75.4 L741.5,75.8 L741.1,71.8 L741.7,75.8 L742.3,72.3 L742.3,70.9 L741.3,67.8 L742.0,71.5 L742.1,69.1 L741.8,70.2 L742.0,67.6 L742.1,64.2 L742.9,64.9 L742.6,65.1 L743.0,64.7 L743.3,63.9 L742.8,62.6 L743.0,62.4 L742.5,62.7 L742.4,64.5 L743.4,64.2 L743.0,69.6 L742.6,67.4 L743.5,71.3 L743.2,68.9 L743.3,72.0 L743.1,69.7 L743.1,69.6 L743.8,71.8 L744.7,74.8 L742.3,71.8 L743.4,71.7 L743.3,75.6 L743.1,73.8 L743.8,75.7 L743.5,77.6 L743.7,81.5 L743.7,79.1 L743.9,81.2 L742.5,82.7 L743.1,79.7 L743.3,82.3 L743.3,84.8 L743.7,81.0 L744.0,83.7 L743.9,85.4 L743.6,83.5 L744.6,86.7 L744.3,87.6 L744.7,86.2 L744.9,86.0 L745.3,85.1 L744.8,85.7 L745.2,83.7 L746.6,85.0 L745.3,85.2 L745.3,88.9 L745.5,88.6 L745.8,91.9 L745.5,91.3 L745.9,92.5 L745.2,92.9 L746.0,91.8 L745.8,93.1 L746.5,96.6 L746.2,93.1 L746.3,99.7 L746.0,97.6 L746.1,96.3 L746.7,100.3 L746.1,100.3 L746.4,101.5 L745.7,102.3 L746.6,100.1 L746.4,105.5 L746.3,101.9 L746.6,106.6 L747.1,106.1 L746.3,108.7 L747.6,104.2 L747.0,107.7 L746.9,109.5 L747.3,109.2 L747.4,111.8 L748.3,111.0 L748.0,110.5 L748.1,110.9 L747.6,113.1 L746.9,113.6 L747.6,115.1 L747.7,117.6 L747.8,116.4 L748.0,116.9 L748.0,117.7 L748.1,119.9 L748.2,119.3 L748.3,121.1 L748.5,122.1 L748.6,122.5 L747.7,122.7 L748.6,121.4 L748.3,123.9 L748.3,123.7 L748.6,128.0 L748.7,125.7 L749.5,126.9 L749.0,127.7 L748.8,129.4 L749.6,127.8 L749.6,128.7 L749.4,131.3 L748.6,132.1 L748.9,130.3 L748.9,134.5 L749.4,135.3 L749.4,137.5 L749.4,133.4 L750.5,138.7 L749.9,139.2 L750.1,137.3 L750.0,139.0 L750.3,140.2 L750.2,139.7 L750.1,142.1 L750.8,140.5 L750.5,142.8 L749.8,141.5 L750.6,140.2 L750.4,140.2 L750.7,140.4 L751.1,139.4 L751.3,136.7 L751.1,137.8 L750.5,135.5 L751.2,135.8 L750.5,134.1 L751.7,135.3 L751.2,135.2 L750.8,132.2 L751.6,131.3 L750.8,131.7 L752.0,127.6 L751.4,127.6 L751.3,126.5 L752.6,126.9 L751.5,127.0 L751.7,125.2 L751.4,124.6 L752.0,127.1 L752.2,126.0 L751.8,123.0 L752.2,119.8 L754.1,121.2 L752.7,119.4 L752.8,119.7 L753.1,119.0 L752.4,120.7 L752.9,122.4 L753.4,123.2 L753.0,124.4 L753.1,124.6 L752.7,126.7 L753.3,127.5 L753.4,126.7 L753.0,128.0 L754.1,127.1 L753.2,130.7 L753.4,132.3 L753.9,131.1 L753.0,131.8 L753.1,133.9 L753.6,134.2 L752.8,133.9 L753.3,135.0 L752.4,132.5 L753.0,131.9 L753.6,131.4 L754.5,132.6 L753.0,130.5 L754.2,131.1 L753.2,130.7 L753.5,131.1 L753.5,128.5 L754.0,126.2 L753.7,127.7 L754.1,125.1 L754.1,126.9 L754.3,124.3 L754.1,120.5 L754.0,122.0 L754.0,122.0 L753.8,122.7 L753.9,122.8 L753.7,124.1 L754.1,126.8 L754.2,126.8 L753.7,130.1 L754.9,127.1 L753.9,130.5 L754.3,130.1 L754.2,133.4 L754.2,129.9 L754.8,130.6 L753.7,132.6 L753.4,134.9 L754.1,135.7 L753.9,136.9 L754.6,135.6 L754.5,137.3 L754.4,136.3 L754.5,141.2 L753.4,138.5 L754.1,140.4 L754.6,142.2 L754.3,144.2 L754.1,142.4 L755.4,143.5 L754.0,143.5 L754.0,146.1 L755.0,145.8 L754.2,147.8 L754.3,147.6 L754.5,148.0 L754.4,147.8 L754.4,150.0 L754.2,150.4 L754.2,151.0 L754.2,152.6 L754.1,153.9 L754.0,153.9 L754.4,154.5 L754.8,155.5 L754.0,157.5 L754.7,157.7 L754.1,156.4 L754.2,159.3 L754.1,160.0 L755.0,158.2 L753.6,160.8 L753.9,163.7 L754.3,161.5 L753.9,163.7 L754.2,165.1 L754.0,166.6 L754.8,164.5 L754.3,167.0 L754.1,167.6 L754.4,170.8 L753.9,170.8 L754.0,169.3 L754.4,170.9 L754.7,170.8 L754.3,171.2 L754.1,174.0 L754.4,173.9 L754.1,175.6 L754.2,174.5 L754.8,178.8 L754.5,177.1 L754.9,177.4 L754.3,179.1" fill="none" stroke="#ff6600" stroke-width="2.1" stroke-linejoin="round" stroke-linecap="round"/>
<line x1="307" x2="317.5" y1="402.5" y2="402.5" stroke="#ff6600" stroke-width="1.6"/>
<text class="leg" x="325" y="406.6">S&amp;P Merval USD Ajustado por CPI US</text>
<text class="foot" x="794.5" y="425.1">Outlier en base a precios de mercado</text>
</g>
<defs><filter id="bl" x="0" y="0" width="800" height="439" filterUnits="userSpaceOnUse" color-interpolation-filters="sRGB"><feConvolveMatrix order="7 1" kernelMatrix="0.0004 0.0219 0.2283 0.4987 0.2283 0.0219 0.0004" divisor="1" edgeMode="none" result="h"/><feConvolveMatrix in="h" order="1 7" kernelMatrix="0.0004 0.0219 0.2283 0.4987 0.2283 0.0219 0.0004" divisor="1" edgeMode="none"/></filter></defs>
</svg>
</body></html>
